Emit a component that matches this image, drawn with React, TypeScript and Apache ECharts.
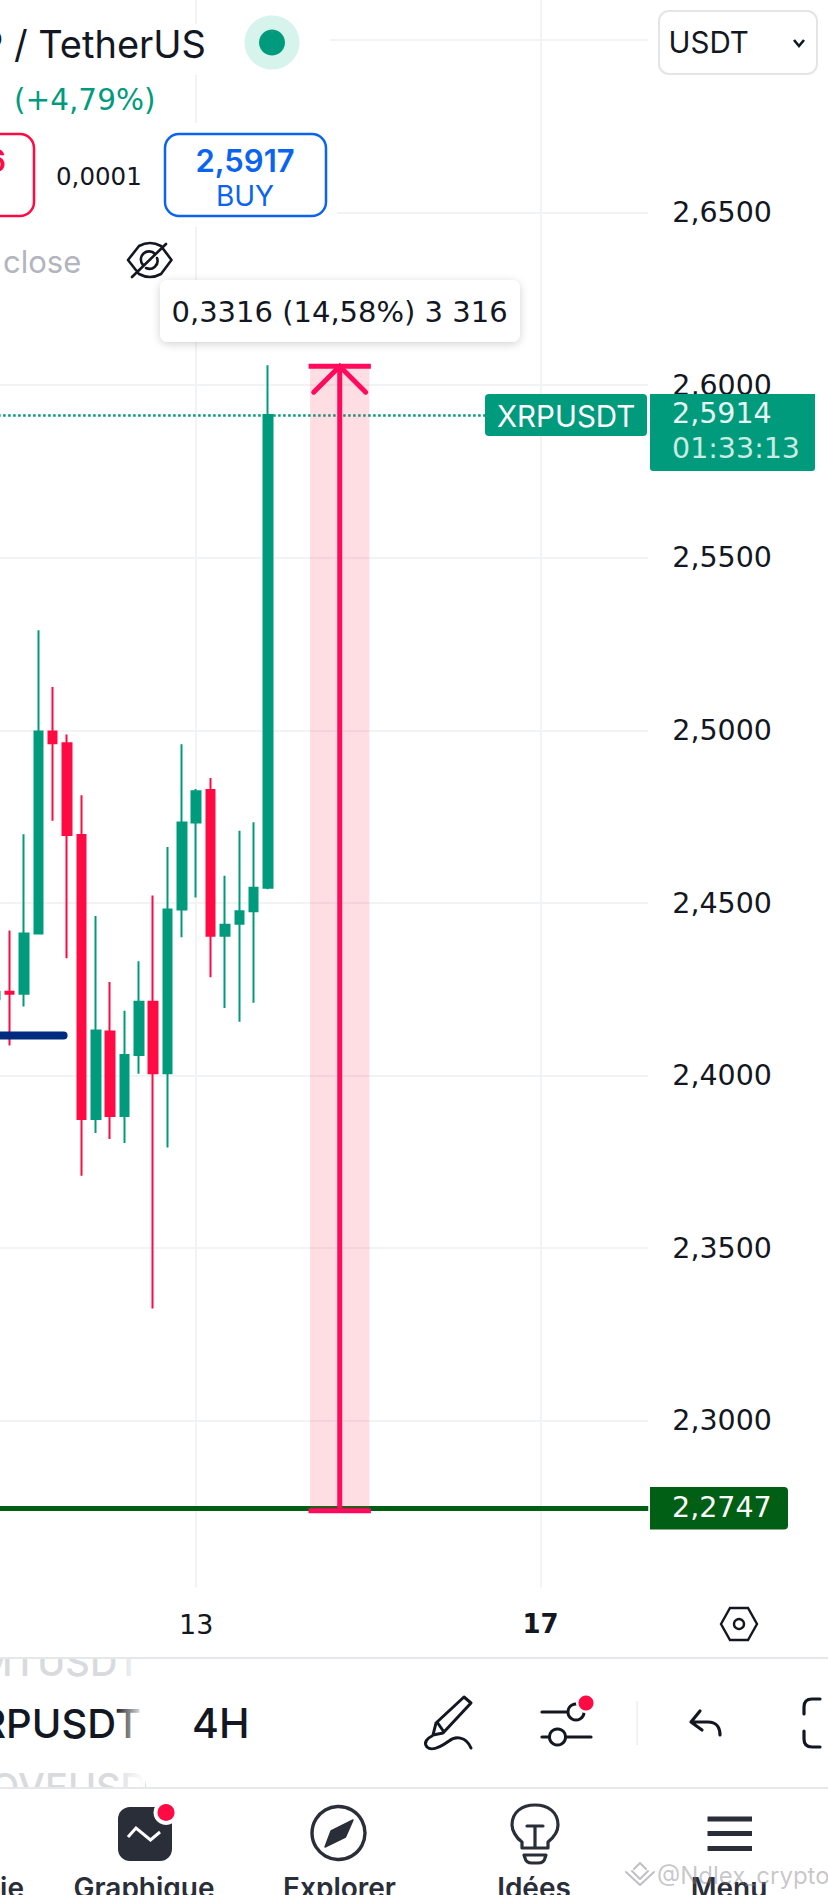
import React, { useEffect, useRef } from "react";
import * as echarts from "echarts";

const FONT = "Inter";
const NUM = "DejaVu Sans";
const GREEN = "#009b7c";
const RED = "#ff0a43";
const PINK = "#ff0a5c";
const DARK = "#131722";
const INK = "#2a2e39";
const DARKGREEN = "#005f14";

const categoryCount = 46;
const tickLabels: Record<number, string> = { 14: "13", 38: "17" };
const categories = Array.from({ length: categoryCount }, (_, i) => tickLabels[i] ?? "");

const opens = [2.4221, 2.4243, 2.4237, 2.4412, 2.4997, 2.4963, 2.4697, 2.3874, 2.4128, 2.3883, 2.406, 2.4214, 2.4007, 2.4481, 2.4733, 2.4827, 2.4405, 2.444, 2.4476, 2.4544];
const closes = [2.4243, 2.4237, 2.4412, 2.4997, 2.4963, 2.4697, 2.3874, 2.4131, 2.3883, 2.406, 2.4214, 2.4007, 2.4481, 2.4733, 2.4824, 2.4405, 2.4437, 2.4476, 2.4544, 2.5914];
const lows = [2.4215, 2.4087, 2.42, 2.4412, 2.4738, 2.434, 2.371, 2.3834, 2.3816, 2.3805, 2.4005, 2.3325, 2.3792, 2.4401, 2.4516, 2.4285, 2.4196, 2.4156, 2.4211, 2.454];
const highs = [2.4258, 2.442, 2.4699, 2.529, 2.5126, 2.4988, 2.4812, 2.4462, 2.4271, 2.4188, 2.4331, 2.4522, 2.4662, 2.496, 2.483, 2.4862, 2.4579, 2.4709, 2.4734, 2.6058];

const lastPrice = 2.5914;
const supportPrice = 2.2747;
const levelPrice = 2.4116;
const levelRange = [0, 5];
const rangeIndex = 24;
const rangeLow = 2.2747;
const rangeHigh = 2.6055;

const candles = opens.map((o, i) => [o, closes[i], lows[i], highs[i]]);

const PATHS: Record<string, string> = {
  eyeoff: "M128 260 L139 246 Q150 240 161 246 L171.5 260 L161 274 Q150 280 139 274 Z M132 277 L166 244 M143 265 A8 8 0 0 1 155 254 M157 258 A8 8 0 0 1 146 268",
  pencil: "M464 1697 L471 1703 L443 1733 L433 1735 L436 1723 Z M437 1722 L444 1732 M471 1748 C466 1736 455 1736 449 1741 C442 1746 432 1752 427 1747 C423 1742 428 1738 432 1736",
  back: "M700 1711 L691 1722 L702 1730 M692 1722 L708 1722 C716 1722 720 1727 720 1735",
  bracket: "M820 1699 L812 1699 Q804 1699 804 1707 L804 1714 M804 1731 L804 1739 Q804 1747 812 1747 L820 1747",
  needle: "M353 1820 L345.5 1837 L325 1847 L331 1831 Z",
  bulb: "M522 1848 L522 1842 C516 1838 512 1830 512 1825 C512 1812 522 1805 535 1805 C548 1805 558 1812 558 1825 C558 1832 553 1838 548 1842 L548 1848 Z M527 1826 L543 1826 M535 1826 L535 1847 M524 1855 L546 1855 L545 1858 Q544 1863 538 1863 L532 1863 Q526 1863 525 1858 Z",
  wm: "M626 1872 L640 1885 L654 1872 M632 1871 L640 1879 L648 1871 M634 1869 L640 1863 L646 1869",
};
let registered = false;
function registerIcons() {
  if (registered) return;
  registered = true;
  Object.keys(PATHS).forEach((k) => {
    echarts.graphic.registerShape("ic_" + k, echarts.graphic.extendPath(PATHS[k], {}) as any);
  });
}

const Z = 50;
const txt = (text: string, x: number, y: number, size: number, fill: string, align = "left", weight: any = 400, family = FONT) => ({
  type: "text", z: Z, x, y, silent: true,
  style: { text, fill, fontSize: size, fontFamily: family, fontWeight: weight, align, verticalAlign: "middle" },
});
const box = (x: number, y: number, w: number, h: number, fill: any, r: any = 0, extra: any = {}) => ({
  type: "rect", z: Z, silent: true, shape: { x, y, width: w, height: h, r }, style: { fill, ...extra },
});
const seg = (x1: number, y1: number, x2: number, y2: number, stroke: string, lineWidth: number) => ({
  type: "line", z: Z, silent: true, shape: { x1, y1, x2, y2 }, style: { stroke, lineWidth, lineCap: "round" },
});
const dot = (cx: number, cy: number, r: number, fill: string, extra: any = {}) => ({
  type: "circle", z: Z, silent: true, shape: { cx, cy, r }, style: { fill, ...extra },
});
const icon = (name: string, stroke: string, lineWidth: number, fill = "none") => ({
  type: "ic_" + name, z: Z, silent: true, x: 0, y: 0,
  style: { stroke, lineWidth, fill, lineCap: "round", lineJoin: "round" },
});

function buildGraphics() {
  const fadeR = new echarts.graphic.LinearGradient(0, 0, 1, 0, [
    { offset: 0, color: "rgba(255,255,255,0)" },
    { offset: 1, color: "rgba(255,255,255,1)" },
  ]);
  return [
    // header
    box(0, 24, 330, 51, "#fff"),
    box(0, 123, 337, 104, "#fff"),
    txt("P / TetherUS", 206, 44, 38, DARK, "right"),
    { type: "ellipse", z: Z, silent: true, shape: { cx: 272, cy: 42.5, rx: 27.5, ry: 27 }, style: { fill: "#d6f3ec" } },
    dot(272, 42.5, 13, GREEN),
    txt("(+4,79%)", 14, 100, 29.5, GREEN, "left", 400, NUM),
    box(-40, 134, 74, 82, "#fff", 14, { stroke: RED, lineWidth: 2.5 }),
    txt("6", 6, 160, 31, RED, "right", 600),
    txt("0,0001", 56, 176, 24.5, DARK, "left", 400, NUM),
    box(165, 134, 161, 82, "#fff", 14, { stroke: "#0a64f0", lineWidth: 2.5 }),
    txt("2,5917", 245, 160, 31, "#0a64f0", "center", 600),
    txt("BUY", 245, 196, 28, "#0a64f0", "center"),
    txt("close", 3, 261, 31, "#b2b5be"),
    icon("eyeoff", DARK, 2.6),
    // measure tooltip
    box(160, 280, 360, 62, "#fff", 8, { shadowBlur: 8, shadowColor: "rgba(0,0,0,0.18)", shadowOffsetY: 2 }),
    txt("0,3316 (14,58%) 3 316", 171.5, 312, 29, DARK, "left", 400, NUM),
    // currency dropdown
    box(659, 11, 158, 63, "#fff", 10, { stroke: "#e4e5e8", lineWidth: 2 }),
    txt("USDT", 668.5, 42, 29.5, DARK),
    { type: "polyline", z: Z, silent: true, shape: { points: [[794, 40], [799, 46], [804, 40]] }, style: { stroke: DARK, lineWidth: 2.6, fill: "none" } },
    // price labels
    box(485, 394, 162, 42, GREEN, 4),
    txt("XRPUSDT", 497, 415.5, 29.5, "#fff"),
    box(650, 394, 165, 77, GREEN, [0, 0, 3, 3]),
    txt("2,5914", 672, 413, 28.5, "#e6f7f3", "left", 400, NUM),
    txt("01:33:13", 672, 448, 28.5, "#c8ebe2", "left", 400, NUM),
    box(650, 1487, 138, 42.5, DARKGREEN, [0, 4, 4, 0]),
    txt("2,2747", 672, 1507.5, 28.5, "#fff", "left", 400, NUM),
    // below plot
    box(0, 1587.5, 648, 8, "#fff"),
    { type: "polygon", z: Z, silent: true, shape: { points: [[721, 1624], [730, 1608], [748, 1608], [757, 1624], [748, 1640], [730, 1640]] }, style: { fill: "none", stroke: DARK, lineWidth: 2.4 } },
    { type: "circle", z: Z, silent: true, shape: { cx: 739, cy: 1624, r: 5 }, style: { fill: "none", stroke: DARK, lineWidth: 2.4 } },
    // toolbar
    txt("MTUSDT", 141, 1662, 38, "#d8dade", "right", 500),
    box(0, 1640, 160, 18, "#fff"),
    txt("OVEUSD", 148, 1787, 38, "#d8dade", "right", 500),
    box(0, 1788, 828, 107, "#fff"),
    box(0, 1657, 828, 2, "#e6e7ea"),
    box(0, 1787, 828, 2, "#e6e7ea"),
    txt("RPUSDT", 141, 1723, 40, DARK, "right", 500),
    box(115, 1659, 30, 128, fadeR),
    txt("4H", 192, 1723, 41, DARK, "left", 500),
    icon("pencil", DARK, 3),
    seg(542, 1712, 567, 1712, DARK, 3.2),
    { type: "circle", z: Z, silent: true, shape: { cx: 576, cy: 1712, r: 8 }, style: { fill: "none", stroke: DARK, lineWidth: 3 } },
    dot(586, 1703, 10, "#fff"),
    dot(586, 1703, 7.5, RED),
    seg(542, 1737, 549, 1737, DARK, 3.2),
    { type: "circle", z: Z, silent: true, shape: { cx: 557.5, cy: 1737, r: 8 }, style: { fill: "none", stroke: DARK, lineWidth: 3 } },
    seg(566, 1737, 591, 1737, DARK, 3.2),
    box(636.5, 1701, 1.5, 44, "#eceded"),
    icon("back", DARK, 3.2),
    icon("bracket", DARK, 3.2),
    // bottom nav
    box(118, 1807, 54, 54, INK, 12),
    { type: "polyline", z: Z, silent: true, shape: { points: [[128, 1837], [136, 1828], [150.5, 1840], [160, 1832]] }, style: { stroke: "#fff", lineWidth: 3, fill: "none" } },
    dot(166, 1812.5, 12.5, "#fff"),
    dot(166, 1812.5, 8.5, RED),
    { type: "circle", z: Z, silent: true, shape: { cx: 338.5, cy: 1833, r: 26.5 }, style: { fill: "none", stroke: INK, lineWidth: 3.4 } },
    icon("needle", INK, 1.5, INK),
    icon("bulb", INK, 3.2),
    box(707.5, 1816.5, 44.5, 5, INK),
    box(707.5, 1831, 44.5, 5, INK),
    box(707.5, 1846, 44.5, 5, INK),
    txt("ie", 24, 1888, 28, INK, "right", 600),
    txt("Graphique", 144, 1888, 28, INK, "center", 600),
    txt("Explorer", 339.5, 1888, 28, INK, "center", 600),
    txt("Idées", 534, 1888, 28, INK, "center", 600),
    txt("Menu", 729, 1888, 28, INK, "center", 600),
    txt("@Ndlex_crypto", 657, 1875, 24, "rgba(130,130,135,0.45)"),
    icon("wm", "rgba(130,130,135,0.5)", 2),
  ];
}

function buildOption(): any {
  return {
    animation: false,
    backgroundColor: "#ffffff",
    grid: { left: -11.85, right: 179.75, top: -132.6, bottom: 301.6, containLabel: false, outerBoundsMode: "none" },
    xAxis: {
      type: "category",
      data: categories,
      boundaryGap: true,
      axisLine: { show: false },
      axisTick: { show: false },
      axisLabel: {
        interval: 0,
        margin: 18,
        fontFamily: NUM,
        fontSize: 27,
        color: DARK,
        formatter: (v: string) => (v === "17" ? "{b|17}" : v),
        rich: { b: { fontFamily: NUM, fontSize: 26, fontWeight: 700, color: DARK } },
      },
      splitLine: {
        show: true,
        alignWithLabel: true,
        interval: (_: number, v: string) => v !== "",
        lineStyle: { color: "#f2f3f4", width: 2 },
      },
    },
    yAxis: {
      type: "value",
      position: "right",
      min: 2.25,
      max: 2.75,
      interval: 0.05,
      axisLine: { show: false },
      axisTick: { show: false },
      axisLabel: {
        margin: 24,
        align: "left",
        fontFamily: NUM,
        fontSize: 28.5,
        color: DARK,
        padding: [0, 0, 2, 0],
        formatter: (v: number) => (v > 2.27 && v < 2.68 ? v.toFixed(4).replace(".", ",") : ""),
      },
      splitLine: { show: true, lineStyle: { color: "#f2f3f4", width: 2 } },
    },
    series: [
      {
        type: "candlestick",
        z: 3,
        data: candles,
        barWidth: 9,
        itemStyle: { color: GREEN, color0: RED, borderColor: GREEN, borderColor0: RED, borderWidth: 2 },
        markLine: {
          silent: true,
          symbol: "none",
          precision: 4,
          label: { show: false },
          data: [
            { yAxis: lastPrice, lineStyle: { color: GREEN, type: [2.5, 2.5], width: 2.5 } },
            { yAxis: supportPrice, lineStyle: { color: DARKGREEN, type: "solid", width: 5 } },
          ],
        },
      },
      {
        type: "custom",
        z: 4,
        silent: true,
        data: [[levelRange[0], levelRange[1], levelPrice]],
        renderItem: (_: any, api: any) => {
          const a = api.coord([api.value(0), api.value(2)]);
          const b = api.coord([api.value(1), api.value(2)]);
          return {
            type: "line",
            shape: { x1: a[0], y1: a[1], x2: b[0] - 3.5, y2: b[1] },
            style: { stroke: "#002b7f", lineWidth: 8, lineCap: "round", fill: "none" },
          };
        },
      },
      {
        type: "custom",
        z: 5,
        silent: true,
        clip: false,
        data: [[rangeIndex, rangeLow, rangeHigh]],
        renderItem: (_: any, api: any) => {
          const bot = api.coord([api.value(0), api.value(1)]);
          const top = api.coord([api.value(0), api.value(2)]);
          const cx = bot[0];
          const hw = api.size([1, 0])[0] * 2.066;
          const capHw = hw + 1.5;
          const stroke = { stroke: PINK, lineWidth: 5, fill: "none" };
          return {
            type: "group",
            children: [
              { type: "rect", shape: { x: cx - hw, y: top[1], width: hw * 2, height: bot[1] - top[1] }, style: { fill: "rgba(255,60,90,0.17)" } },
              { type: "line", shape: { x1: cx, y1: top[1], x2: cx, y2: bot[1] }, style: stroke },
              { type: "line", shape: { x1: cx - capHw, y1: top[1], x2: cx + capHw, y2: top[1] }, style: stroke },
              { type: "line", shape: { x1: cx - capHw, y1: bot[1] + 2.5, x2: cx + capHw, y2: bot[1] + 2.5 }, style: stroke },
              { type: "polyline", shape: { points: [[cx - 26, top[1] + 26], [cx, top[1]], [cx + 26, top[1] + 26]] }, style: { ...stroke, lineCap: "round" } },
            ],
          };
        },
      },
    ],
    graphic: { elements: buildGraphics() },
  };
}

export default function App() {
  const ref = useRef<HTMLDivElement>(null);
  useEffect(() => {
    document.body.style.margin = "0";
    registerIcons();
    const chart = echarts.init(ref.current!, undefined, { renderer: "svg" });
    chart.setOption(buildOption());
    return () => chart.dispose();
  }, []);
  return <div ref={ref} style={{ width: 828, height: 1895, overflow: "hidden" }} />;
}
